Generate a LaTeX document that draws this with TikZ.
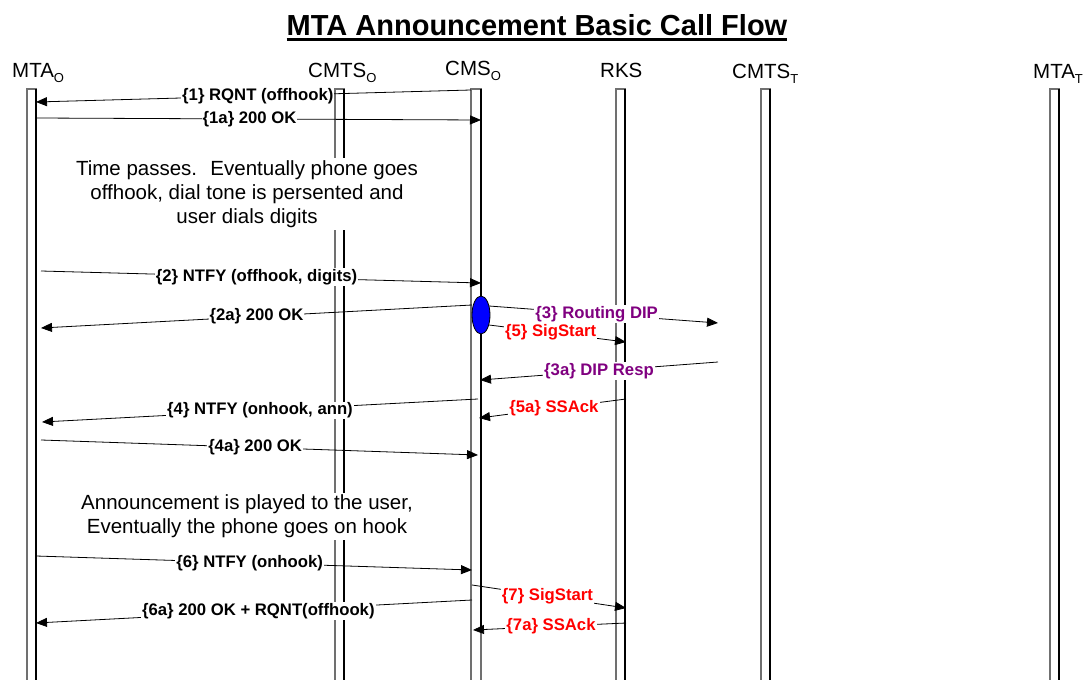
\documentclass[tikz,border=0pt]{standalone}
\usepackage{fontspec}
\setmainfont{Liberation Sans}
\usetikzlibrary{arrows.meta,shapes.geometric}
\definecolor{dippurple}{HTML}{800080}
\definecolor{sigred}{HTML}{FF0000}
\definecolor{blobblue}{HTML}{0000FF}
\definecolor{edgegray}{HTML}{707070}
\newcommand{\lsub}[1]{\raisebox{-0.5ex}{\fontsize{13}{13}\selectfont #1}}
\begin{document}
\begin{tikzpicture}[x=1pt,y=-1pt,
  lifeline/.style={draw=edgegray, line width=1.2pt, fill=white, minimum width=9pt, minimum height=592pt, inner sep=0pt, outer sep=0pt},
  rightedge/.style={draw=black, line width=1.1pt},
  msg/.style={draw=black, line width=0.8pt, -{Triangle[length=11pt,width=9pt]}},
  lbl/.style={fill=white, inner sep=1pt, font=\fontsize{16.7}{18}\selectfont\bfseries},
  head/.style={anchor=base west, inner sep=0pt, font=\fontsize{20.5}{22}\selectfont},
  note/.style={fill=white, align=center, inner sep=2pt, font=\fontsize{20.5}{24}\selectfont},
  blob/.style={ellipse, draw=black, line width=0.8pt, fill=blobblue, minimum width=18pt, minimum height=38pt, inner sep=0pt}
]
\useasboundingbox (0,0) rectangle (1085,680);

% title
\node[anchor=base, inner sep=0pt, font=\fontsize{29}{31}\selectfont\bfseries] (title) at (537,35) {MTA Announcement Basic Call Flow};
\draw[line width=3pt] (title.base west) ++(0,4.5) coordinate (ulA) -- (title.base east |- ulA);

% headers
\node[head] (hmtao) at (12,77) {MTA\lsub{O}};
\node[head] (hcmtso) at (308,77) {CMTS\lsub{O}};
\node[head] (hcmso) at (445,75) {CMS\lsub{O}};
\node[head] (hrks) at (600,77) {RKS};
\node[head] (hcmtst) at (732,78) {CMTS\lsub{T}};
\node[head] (hmtat) at (1033,78) {MTA\lsub{T}};

% lifelines
\node[lifeline] (mtao) at (31.5,385) {};
\node[lifeline] (cmtso) at (339.5,385) {};
\node[lifeline, minimum width=10pt] (cmso) at (476,385) {};
\node[lifeline] (rks) at (620.5,385) {};
\node[lifeline] (cmtst) at (765.5,385) {};
\node[lifeline] (mtat) at (1054.5,385) {};
\foreach \n in {mtao,cmtso,rks,cmtst,mtat}{
  \draw[rightedge] (\n.north east) -- (\n.south east);
}
\coordinate (cmsmid) at (481,631);
\draw[draw=black, line width=1.8pt] (cmso.north east) -- (cmsmid);
\draw[draw=edgegray, line width=1.2pt] (cmsmid) -- (cmso.south east);

% endpoints
\coordinate (a1s) at (471,90);   \coordinate (a1e) at (36,102);
\coordinate (a1as) at (36,118);  \coordinate (a1ae) at (481,120);
\coordinate (a2s) at (41,271);   \coordinate (a2e) at (481,283);
\coordinate (a2as) at (472,305); \coordinate (a2ae) at (41,328);
\coordinate (a3s) at (489,306);  \coordinate (a3e) at (718,323);
\coordinate (a5s) at (489,325);  \coordinate (a5e) at (626,342);
\coordinate (a3as) at (718,362); \coordinate (a3ae) at (480,380);
\coordinate (a4s) at (478,399);  \coordinate (a4e) at (42,422);
\coordinate (a5as) at (626,399); \coordinate (a5ae) at (479,418);
\coordinate (a4as) at (41,440);  \coordinate (a4ae) at (478,455);
\coordinate (a6s) at (36,556);   \coordinate (a6e) at (472,570);
\coordinate (a7s) at (472,585);  \coordinate (a7e) at (626,608);
\coordinate (a6as) at (472,600); \coordinate (a6ae) at (36,623);
\coordinate (a7as) at (626,623); \coordinate (a7ae) at (473,630);

% blob on CMS
\node[blob] (dip) at (481,315) {};

% messages
\draw[msg] (a1s) -- node[lbl, pos=0.49] (l1) {\{1\} RQNT (offhook)} (a1e);
\draw[msg] (a1as) -- node[lbl, pos=0.48] (l1a) {\{1a\} 200 OK} (a1ae);
\draw[msg] (a2s) -- node[lbl, pos=0.49] (l2) {\{2\} NTFY (offhook, digits)} (a2e);
\draw[msg] (a2as) -- node[lbl, pos=0.5] (l2a) {\{2a\} 200 OK} (a2ae);
\draw[msg] (a3s) -- node[lbl, pos=0.47, text=dippurple] (l3) {\{3\} Routing DIP} (a3e);
\draw[msg] (a5s) -- node[lbl, pos=0.45, text=sigred] (l5) {\{5\} SigStart} (a5e);
\draw[msg] (a3as) -- node[lbl, pos=0.5, text=dippurple] (l3a) {\{3a\} DIP Resp} (a3ae);
\draw[msg] (a4s) -- node[lbl, pos=0.5] (l4) {\{4\} NTFY (onhook, ann)} (a4e);
\draw[msg] (a5as) -- node[lbl, pos=0.49, text=sigred] (l5a) {\{5a\} SSAck} (a5ae);
\draw[msg] (a4as) -- node[lbl, pos=0.49] (l4a) {\{4a\} 200 OK} (a4ae);
\draw[msg] (a6s) -- node[lbl, pos=0.49] (l6) {\{6\} NTFY (onhook)} (a6e);
\draw[msg] (a7s) -- node[lbl, pos=0.49, text=sigred] (l7) {\{7\} SigStart} (a7e);
\draw[msg] (a6as) -- node[lbl, pos=0.49] (l6a) {\{6a\} 200 OK + RQNT(offhook)} (a6ae);
\draw[msg] (a7as) -- node[lbl, pos=0.49, text=sigred] (l7a) {\{7a\} SSAck} (a7ae);

% notes
\node[note] (n1) at (247,194) {Time passes.~ Eventually phone goes\\offhook, dial tone is persented and\\user dials digits};
\node[note] (n2) at (247,516.5) {Announcement is played to the user,\\Eventually the phone goes on hook};
\end{tikzpicture}
\end{document}
